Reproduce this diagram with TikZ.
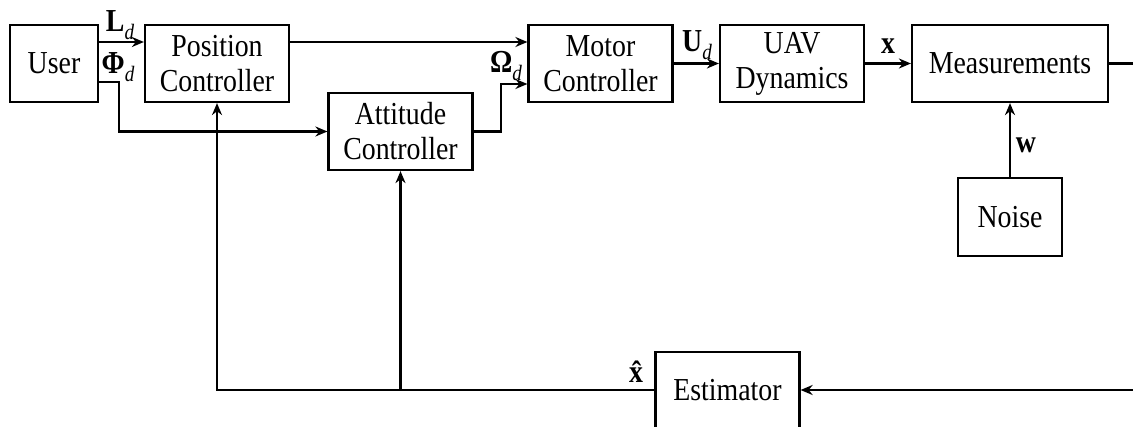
\documentclass[tikz,border=0pt]{standalone}
\usepackage{fontspec}
\setmainfont{Liberation Serif}[FakeStretch=0.87]
\usetikzlibrary{arrows.meta,positioning,calc}
\newcommand{\subd}{\raisebox{-0.55ex}{\fontsize{11}{11}\selectfont\normalfont\itshape d}}

\begin{document}
\begin{tikzpicture}[x=0.5pt, y=-0.5pt, >={Stealth[length=6pt,width=5pt]}, line width=1.1pt,
  blk/.style={draw, line width=1.1pt, minimum width=72pt, minimum height=38.5pt, inner sep=1pt, align=center, font=\fontsize{16}{17.5}\selectfont},
  sig/.style={font=\fontsize{16}{17.5}\selectfont\bfseries, inner sep=1pt}]
\useasboundingbox (0,0) rectangle (1133,427);
% blocks
\node[blk, minimum width=44pt] (user) at (54,63.5) {User};
\node[blk] (pos) at (217,63.5) {Position\\Controller};
\node[blk] (att) at (400.5,131.5) {Attitude\\Controller};
\node[blk] (mot) at (600.5,63.5) {Motor\\Controller};
\node[blk] (uav) at (792,63.5) {UAV\\Dynamics};
\node[blk, minimum width=98pt] (meas) at (1010,63.5) {Measurements};
\node[blk, minimum width=52pt, minimum height=39pt] (noise) at (1010,217) {Noise};
\node[blk, minimum height=38pt] (est) at (727.5,390) {Estimator};
% signal labels
\node[sig] (ld) at (120,25) {L\subd};
\node[sig] (phid) at (118,67) {Φ\subd};
\node[sig] (omd) at (506,66) {Ω\subd};
\node[sig] (ud) at (697,45) {U\subd};
\node[sig] (xs) at (888,46) {x};
\node[sig] (ws) at (1026,145) {w};
\node[sig] (xh) at (636,372) {\^{x}};
% connections
\coordinate (phisplit) at (119,82);
\draw[->] ([yshift=10.75pt]user.east) -- ([yshift=10.75pt]pos.west);
\draw[->] ([yshift=-9.25pt]user.east) -- (phisplit) |- (att.west);
\draw[->] ([yshift=10.75pt]pos.east) -- ([yshift=10.75pt]mot.west);
\draw[->] (att.east) -- ++(27,0) |- ([yshift=-10.25pt]mot.west);
\draw[->] (mot) -- (uav);
\draw[->] (uav) -- (meas);
\draw[->] (noise) -- (meas);
\draw[->] (meas.east) -- ++(34,0) |- (est.east);
\draw[->] (est.west) -| (pos.south);
\draw[->] (att.south |- est.west) -- (att.south);
\end{tikzpicture}
\end{document}
